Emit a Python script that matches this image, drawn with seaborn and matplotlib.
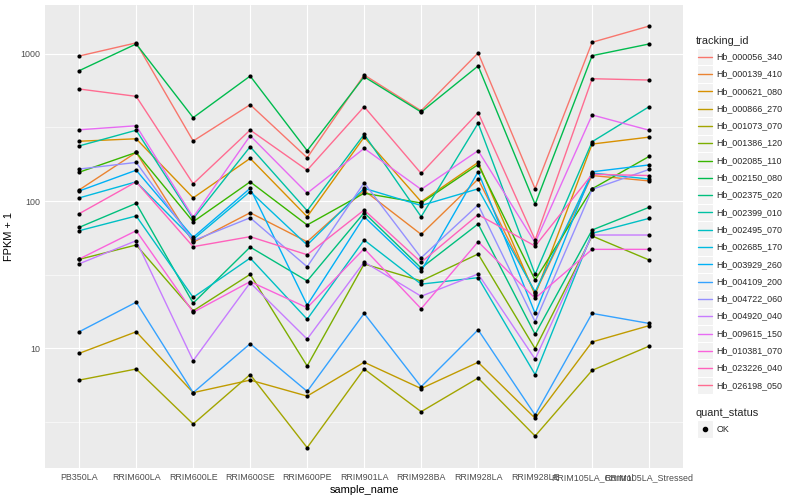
import numpy as np
import pandas as pd
import matplotlib
matplotlib.use("Agg")
import matplotlib.pyplot as plt
import seaborn as sns
from matplotlib.patches import Rectangle
from matplotlib.lines import Line2D

# ---------------------------------------------------------------------
# data (FPKM + 1)
# ---------------------------------------------------------------------
samples = ["PB350LA", "RRIM600LA", "RRIM600LE", "RRIM600SE", "RRIM600PE",
           "RRIM901LA", "RRIM928BA", "RRIM928LA", "RRIM928LE",
           "RRIM105LA_Control", "RRIM105LA_Stressed"]

hb_000056_340 = [969, 1190, 256, 452, 197, 720, 411, 1016, 121, 1201, 1549]
hb_000139_410 = [119, 214, 52.4, 83.2, 52.8, 118, 59.3, 141, 23.7, 149, 137]
hb_000621_080 = [255, 265, 105, 195, 78.2, 272, 98.9, 183, 23.0, 244, 272]
hb_000866_270 = [9.2, 12.9, 4.97, 6.05, 4.71, 8.0, 5.3, 8.0, 3.33, 11.0, 14.2]
hb_001073_070 = [6.05, 7.2, 3.04, 6.6, 2.10, 7.2, 3.69, 6.25, 2.52, 7.05, 10.3]
hb_001386_120 = [40.1, 50.2, 17.9, 31.7, 7.55, 37.3, 28.6, 43.6, 9.9, 57.8, 39.7]
hb_002085_110 = [157, 214, 72.3, 135, 68.7, 113, 96.9, 177, 29.0, 121, 201]
hb_002150_080 = [770, 1170, 369, 708, 220, 700, 403, 829, 95.0, 974, 1170]
hb_002375_020 = [66.2, 96.4, 20.2, 48.6, 28.6, 83.2, 35.0, 69.8, 12.4, 63.5, 90.6]
hb_002399_010 = [237, 303, 75.8, 234, 85.9, 284, 78.2, 338, 31.7, 253, 438]
hb_002495_070 = [62.8, 79.1, 22.1, 40.9, 15.7, 54.3, 27.2, 30.1, 6.6, 60.3, 76.2]
hb_002685_170 = [105, 135, 54.8, 116, 50.2, 122, 93.2, 121, 24.1, 155, 141]
hb_003929_260 = [117, 162, 56.6, 122, 19.6, 78.2, 33.4, 158, 17.2, 158, 176]
hb_004109_200 = [12.9, 20.5, 4.97, 10.7, 5.07, 17.2, 5.45, 13.3, 3.50, 17.2, 14.7]
hb_004722_060 = [165, 183, 53.7, 76.9, 35.7, 133, 41.1, 94.0, 15.1, 120, 164]
hb_004920_040 = [37.4, 53.7, 8.2, 27.8, 11.5, 38.5, 22.5, 31.9, 8.4, 58.7, 58.7]
hb_009615_150 = [305, 325, 77.5, 278, 113, 228, 120, 220, 52.0, 385, 303]
hb_010381_070 = [40.3, 62.8, 17.5, 28.3, 18.8, 47.4, 18.5, 52.8, 21.8, 46.9, 46.9]
hb_023226_040 = [82.0, 135, 48.9, 57.2, 43.1, 86.9, 38.3, 80.7, 49.4, 152, 149]
hb_026198_050 = [578, 515, 131, 304, 162, 438, 154, 399, 54.3, 679, 665]

tracking_ids = {
    "Hb_000056_340": hb_000056_340, "Hb_000139_410": hb_000139_410,
    "Hb_000621_080": hb_000621_080, "Hb_000866_270": hb_000866_270,
    "Hb_001073_070": hb_001073_070, "Hb_001386_120": hb_001386_120,
    "Hb_002085_110": hb_002085_110, "Hb_002150_080": hb_002150_080,
    "Hb_002375_020": hb_002375_020, "Hb_002399_010": hb_002399_010,
    "Hb_002495_070": hb_002495_070, "Hb_002685_170": hb_002685_170,
    "Hb_003929_260": hb_003929_260, "Hb_004109_200": hb_004109_200,
    "Hb_004722_060": hb_004722_060, "Hb_004920_040": hb_004920_040,
    "Hb_009615_150": hb_009615_150, "Hb_010381_070": hb_010381_070,
    "Hb_023226_040": hb_023226_040, "Hb_026198_050": hb_026198_050,
}

# ggplot2 default hue palette for 20 levels
gg_colors = ["#F8766D", "#EA8331", "#D89000", "#C09B00", "#A3A500",
             "#7CAE00", "#39B600", "#00BB4E", "#00BF7D", "#00C1A3",
             "#00BFC4", "#00BAE0", "#00B0F6", "#35A2FF", "#9590FF",
             "#C77CFF", "#E76BF3", "#FA62DB", "#FF62BC", "#FF6C91"]

rows = []
for tid, vals in tracking_ids.items():
    for i, s in enumerate(samples):
        rows.append({"tracking_id": tid, "sample_name": s, "pos": i, "fpkm": vals[i]})
df = pd.DataFrame(rows)

# ---------------------------------------------------------------------
# plot
# ---------------------------------------------------------------------
sns.set_style("white")
plt.rcParams["font.family"] = ["Liberation Sans", "DejaVu Sans"]

W, H = 800, 500
fig = plt.figure(figsize=(W / 100, H / 100), dpi=100)
L, T, R, B = 45, 5, 683.3, 468.3
ax = fig.add_axes([L / W, 1 - B / H, (R - L) / W, (B - T) / H])
ax.set_facecolor("#EBEBEB")

palette = dict(zip(tracking_ids.keys(), gg_colors))
sns.lineplot(data=df, x="pos", y="fpkm", hue="tracking_id", palette=palette,
             sort=False, linewidth=1.0, legend=False, ax=ax, zorder=3)
sns.scatterplot(data=df, x="pos", y="fpkm", color="black", s=9,
                linewidth=0, legend=False, ax=ax, zorder=4)

ax.set_yscale("log")
ax.set_ylim(1.52, 2154)
ax.set_xlim(-0.6, len(samples) - 0.4)

ax.set_yticks([10, 100, 1000])
ax.set_yticklabels(["10", "100", "1000"])
ax.set_yticks([10 ** 0.5, 10 ** 1.5, 10 ** 2.5], minor=True)
ax.yaxis.set_minor_formatter(matplotlib.ticker.NullFormatter())
ax.set_xticks(range(len(samples)))
ax.set_xticklabels(samples)

ax.grid(True, which="major", color="white", linewidth=0.8, zorder=1)
ax.grid(True, which="minor", axis="y", color="white", linewidth=0.4, zorder=1)
ax.set_axisbelow(True)
for sp in ax.spines.values():
    sp.set_visible(False)

ax.tick_params(axis="both", which="major", length=2.2, width=0.7, color="#333333",
               labelsize=6.4, labelcolor="#4D4D4D", pad=1.5)
ax.tick_params(axis="y", which="minor", length=0)

ax.set_xlabel("sample_name", fontsize=7.9, color="black", labelpad=1.5)
ax.set_ylabel("FPKM + 1", fontsize=7.9, color="black", labelpad=4)

# ---------------------------------------------------------------------
# ggplot-style legends on the right
# ---------------------------------------------------------------------
def fx(px):
    return px / W

def fy(py):
    return 1 - py / H

fig.text(fx(696), fy(40.7), "tracking_id", fontsize=7.9, va="center", ha="left")
key_x, key_w, step = 696.5, 16.5, 17.3
for i, (tid, col) in enumerate(zip(tracking_ids.keys(), gg_colors)):
    cy = 56.7 + i * step
    fig.patches.append(Rectangle((fx(key_x), fy(cy + step / 2)), key_w / W, step / H,
                                 transform=fig.transFigure, facecolor="#F2F2F2",
                                 edgecolor="white", linewidth=0.8))
    fig.lines.append(Line2D([fx(key_x + 1.5), fx(key_x + key_w - 1.5)], [fy(cy), fy(cy)],
                            transform=fig.transFigure, color=col, linewidth=1.0))
    fig.text(fx(716.5), fy(cy), tid, fontsize=6.4, va="center", ha="left")

fig.text(fx(696), fy(412.7), "quant_status", fontsize=7.9, va="center", ha="left")
fig.patches.append(Rectangle((fx(key_x), fy(429 + step / 2)), key_w / W, step / H,
                             transform=fig.transFigure, facecolor="#F2F2F2",
                             edgecolor="white", linewidth=0.8))
fig.lines.append(Line2D([fx(key_x + key_w / 2)], [fy(429)], transform=fig.transFigure,
                        marker="o", color="black", markersize=3.0, linestyle="none"))
fig.text(fx(716.5), fy(429), "OK", fontsize=6.4, va="center", ha="left")

fig.savefig("out.png", dpi=100, facecolor="white")
